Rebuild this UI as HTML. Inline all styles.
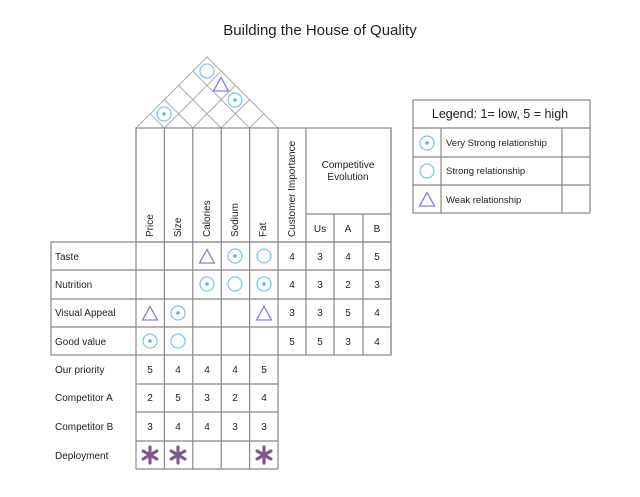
<!DOCTYPE html>
<html><head><meta charset="utf-8"><style>
html,body{margin:0;padding:0;background:#fff}
svg{display:block}
text{font-family:"Liberation Sans",sans-serif;fill:#222}
</style></head><body>
<svg width="640" height="497" viewBox="0 0 640 497" xmlns="http://www.w3.org/2000/svg">
<defs>
<g id="dc"><circle r="7" fill="none" stroke="#7cc8ee" stroke-width="1.3"/><circle r="1.8" fill="#5bb8e6"/></g>
<g id="c"><circle r="7" fill="none" stroke="#7cc8ee" stroke-width="1.3"/></g>
<g id="t"><polygon points="0,-7.5 7.5,6 -7.5,6" fill="none" stroke="#8a80d8" stroke-width="1.3"/></g>
<g id="a" stroke="#7b5a91" stroke-width="3.2" stroke-linecap="round"><line x1="0" y1="-8" x2="0" y2="8"/><line x1="-6.9" y1="-4" x2="6.9" y2="4"/><line x1="-6.9" y1="4" x2="6.9" y2="-4"/></g>
</defs>
<text x="320" y="35" font-size="15" text-anchor="middle" fill="#333">Building the House of Quality</text>
<g stroke="#aaa" stroke-width="1" fill="none">
<polyline points="136,128 207,57 278,128"/>
<line x1="164.4" y1="128" x2="221.2" y2="71.2"/><line x1="164.4" y1="128" x2="150.2" y2="113.8"/>
<line x1="192.8" y1="128" x2="235.4" y2="85.4"/><line x1="192.8" y1="128" x2="164.4" y2="99.6"/>
<line x1="221.2" y1="128" x2="249.6" y2="99.6"/><line x1="221.2" y1="128" x2="178.6" y2="85.4"/>
<line x1="249.6" y1="128" x2="263.8" y2="113.8"/><line x1="249.6" y1="128" x2="192.8" y2="71.2"/>
</g>
<g stroke="#888" stroke-width="1.2" fill="none">
<rect x="136" y="128" width="255" height="114"/>
<line x1="164.4" y1="128" x2="164.4" y2="469"/>
<line x1="192.8" y1="128" x2="192.8" y2="469"/>
<line x1="221.2" y1="128" x2="221.2" y2="469"/>
<line x1="249.6" y1="128" x2="249.6" y2="469"/>
<line x1="136" y1="128" x2="136" y2="469"/>
<line x1="278" y1="128" x2="278" y2="469"/>
<line x1="306" y1="128" x2="306" y2="355"/>
<line x1="334" y1="214" x2="334" y2="355"/>
<line x1="363" y1="214" x2="363" y2="355"/>
<line x1="391" y1="128" x2="391" y2="355"/>
<line x1="306" y1="214" x2="391" y2="214"/>
<rect x="51" y="242" width="340" height="113"/>
<line x1="51" y1="270" x2="391" y2="270"/>
<line x1="51" y1="299" x2="391" y2="299"/>
<line x1="51" y1="327" x2="391" y2="327"/>
<line x1="136" y1="384" x2="278" y2="384"/>
<line x1="136" y1="412" x2="278" y2="412"/>
<line x1="136" y1="441" x2="278" y2="441"/>
<line x1="136" y1="469" x2="278" y2="469"/>
<rect x="413" y="100" width="177" height="113"/>
<line x1="413" y1="128" x2="590" y2="128"/>
<line x1="413" y1="157" x2="590" y2="157"/>
<line x1="413" y1="185" x2="590" y2="185"/>
<line x1="441" y1="128" x2="441" y2="213"/>
<line x1="562" y1="128" x2="562" y2="213"/>
</g>
<g font-size="10">
<text transform="translate(153,237) rotate(-90)">Price</text>
<text transform="translate(181,237) rotate(-90)">Size</text>
<text transform="translate(210,237) rotate(-90)">Calories</text>
<text transform="translate(238,237) rotate(-90)">Sodium</text>
<text transform="translate(266,237) rotate(-90)">Fat</text>
<text transform="translate(295,237) rotate(-90)">Customer Importance</text>
<text x="348" y="168" text-anchor="middle">Competitive</text>
<text x="348" y="180" text-anchor="middle">Evolution</text>
<text x="320" y="232" text-anchor="middle">Us</text>
<text x="348" y="232" text-anchor="middle">A</text>
<text x="377" y="232" text-anchor="middle">B</text>
<text x="55" y="260">Taste</text>
<text x="55" y="288">Nutrition</text>
<text x="55" y="316">Visual Appeal</text>
<text x="55" y="345">Good value</text>
<text x="55" y="373">Our priority</text>
<text x="55" y="401">Competitor A</text>
<text x="55" y="430">Competitor B</text>
<text x="55" y="459">Deployment</text>
<g text-anchor="middle">
<text x="292" y="260">4</text><text x="320" y="260">3</text><text x="348" y="260">4</text><text x="377" y="260">5</text>
<text x="292" y="288">4</text><text x="320" y="288">3</text><text x="348" y="288">2</text><text x="377" y="288">3</text>
<text x="292" y="316">3</text><text x="320" y="316">3</text><text x="348" y="316">5</text><text x="377" y="316">4</text>
<text x="292" y="345">5</text><text x="320" y="345">5</text><text x="348" y="345">3</text><text x="377" y="345">4</text>
<text x="150" y="373">5</text><text x="178" y="373">4</text><text x="207" y="373">4</text><text x="235" y="373">4</text><text x="264" y="373">5</text>
<text x="150" y="401">2</text><text x="178" y="401">5</text><text x="207" y="401">3</text><text x="235" y="401">2</text><text x="264" y="401">4</text>
<text x="150" y="430">3</text><text x="178" y="430">4</text><text x="207" y="430">4</text><text x="235" y="430">3</text><text x="264" y="430">3</text>
</g>
<text x="500" y="118" font-size="12.5" text-anchor="middle">Legend: 1= low, 5 = high</text>
<text x="446" y="146" font-size="9.5">Very Strong relationship</text>
<text x="446" y="174" font-size="9.5">Strong relationship</text>
<text x="446" y="203" font-size="9.5">Weak relationship</text>
</g>
<use href="#c" x="207" y="71"/>
<use href="#t" x="221" y="85"/>
<use href="#dc" x="235" y="100"/>
<use href="#dc" x="164" y="114"/>
<use href="#t" x="207" y="257"/><use href="#dc" x="235" y="256"/><use href="#c" x="264" y="256"/>
<use href="#dc" x="207" y="284"/><use href="#c" x="235" y="284"/><use href="#dc" x="264" y="284"/>
<use href="#t" x="150" y="314"/><use href="#dc" x="178" y="313"/><use href="#t" x="264" y="314"/>
<use href="#dc" x="150" y="341"/><use href="#c" x="178" y="341"/>
<use href="#a" x="150" y="455"/><use href="#a" x="178" y="455"/><use href="#a" x="264" y="455"/>
<use href="#dc" x="427" y="143"/><use href="#c" x="427" y="171"/><use href="#t" x="427" y="200"/>
</svg>
</body></html>
